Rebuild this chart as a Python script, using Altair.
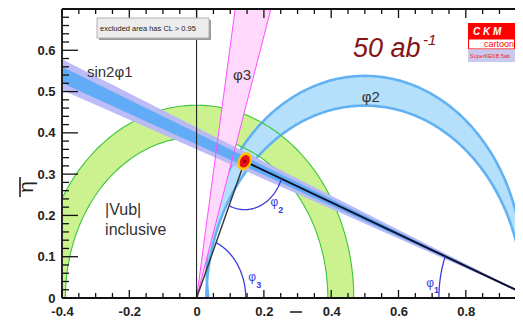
import altair as alt
import numpy as np
import pandas as pd

FONT = "Liberation Sans, Arial, Helvetica, sans-serif"
W, H = 453, 289
X_DOMAIN = [-0.4, -0.4 + 453 / 336.5]
Y_DOMAIN = [0.0, 0.7]

# ---- axis values ----
x_label_values = [-0.4, -0.2, 0.0, 0.2, 0.4, 0.6, 0.8]
y_label_values = [0.0, 0.1, 0.2, 0.3, 0.4, 0.5, 0.6]
x_major_ticks = [-0.4, -0.2, 0.0, 0.2, 0.4, 0.6, 0.8]
x_minor_ticks = [-0.35, -0.3, -0.25, -0.15, -0.1, -0.05, 0.05, 0.1, 0.15, 0.25, 0.3, 0.35,
                 0.45, 0.5, 0.55, 0.65, 0.7, 0.75, 0.85, 0.9]
y_major_ticks = [0.0, 0.1, 0.2, 0.3, 0.4, 0.5, 0.6]
y_minor_ticks = [0.02, 0.04, 0.06, 0.08, 0.12, 0.14, 0.16, 0.18, 0.22, 0.24, 0.26, 0.28,
                 0.32, 0.34, 0.36, 0.38, 0.42, 0.44, 0.46, 0.48, 0.52, 0.54, 0.56, 0.58,
                 0.62, 0.64, 0.66, 0.68]

# ---- constraint parameters ----
vub_radii = [0.390, 0.467]                       # |Vub| annulus around (0,0)
phi2_circles = [[0.5, 0.068, 0.470],              # phi2 band: outer circle (cx, cy, r)
                [0.5, -0.005, 0.471]]             #            inner circle
phi3_angles = [72.5, 80.7]                        # phi3 wedge from origin (deg)
sin2phi1_outer = [0.360, 0.413]                   # slopes of sin2phi1 band through (1,0)
sin2phi1_inner = [0.372, 0.400]
apex = [0.143, 0.331]                             # fitted apex (rho, eta)
angle_arc_radii = [0.146, 0.117, 0.280]           # phi3, phi2, phi1 arcs

# ---- text labels (rho, eta) ----
big_labels = ["sin2φ1", "φ3", "φ2"]
big_x = [-0.326, 0.108, 0.491]
big_y = [0.535, 0.528, 0.475]
vub_labels = ["|Vub|", "inclusive"]
vub_x = [-0.272, -0.272]
vub_y = [0.201, 0.153]
phi_labels = ["φ", "φ", "φ"]
phi_x = [0.694, 0.165, 0.2315]
phi_y = [0.027, 0.041, 0.223]
sub_labels = ["1", "3", "2"]
sub_x = [0.713, 0.185, 0.250]
sub_y = [0.012, 0.024, 0.206]

label_expr = ("datum.value == 0 ? '0' : (datum.value < 0 ? '-' : '') + "
              "format(abs(datum.value), '.1f')")
X = alt.X("x:Q", scale=alt.Scale(domain=X_DOMAIN, nice=False, zero=False),
          axis=alt.Axis(values=x_label_values, ticks=False, domain=False, grid=False,
                        title=None, labelFont=FONT, labelFontSize=13,
                        labelFontWeight="bold", labelColor="#222", labelPadding=7,
                        labelFlush=False, labelOverlap=False, labelExpr=label_expr))
Y = alt.Y("y:Q", scale=alt.Scale(domain=Y_DOMAIN, nice=False, zero=False),
          axis=alt.Axis(values=y_label_values, ticks=False, domain=False, grid=False,
                        title=None, labelFont=FONT, labelFontSize=13,
                        labelFontWeight="bold", labelColor="#222", labelPadding=7,
                        labelFlush=False, labelOverlap=False, labelExpr=label_expr))


def arc(cx, cy, r, a0, a1, n=120):
    t = np.radians(np.linspace(a0, a1, n))
    return list(cx + r * np.cos(t)), list(cy + r * np.sin(t))


def pdf(xs, ys):
    return pd.DataFrame({"x": xs, "y": ys, "i": np.arange(len(xs))})


def poly(df, fill=None, stroke=None, sw=1.0, op=1.0):
    kw = dict(clip=True, strokeJoin="round", interpolate="linear", opacity=op)
    if fill:
        kw["fill"] = fill
    if stroke:
        kw["stroke"] = stroke
        kw["strokeWidth"] = sw
    else:
        kw["strokeOpacity"] = 0
    return alt.Chart(df).mark_line(**kw).encode(x=X, y=Y, order=alt.Order("i:Q"))


layers = []

# |Vub| annulus
ox, oy = arc(0, 0, vub_radii[1], 0, 180)
ix, iy = arc(0, 0, vub_radii[0], 180, 0)
vub_df = pdf(ox + ix, oy + iy)
layers.append(poly(vub_df, fill="#ccf28f"))

# phi2 band (between two circles)
(ca, cya, ra), (cb, cyb, rb) = phi2_circles
a0 = np.degrees(np.arcsin(-cya / ra))
b0 = np.degrees(np.arcsin(-cyb / rb))
ax_, ay_ = arc(ca, cya, ra, a0, 180 - a0, 200)
bx_, by_ = arc(cb, cyb, rb, 180 - b0, b0, 200)
phi2_df = pdf(ax_ + bx_, ay_ + by_)
layers.append(poly(phi2_df, fill="#b5e0fb", stroke="#62b2f3", sw=2.6))

# green edges
layers.append(poly(pdf(ox, oy), stroke="#3cc43c", sw=1.1))
layers.append(poly(pdf(ix, iy), stroke="#3cc43c", sw=1.1))

# phi3 wedge
L = 1.0
p3x = [0.0, L * np.cos(np.radians(phi3_angles[0])), L * np.cos(np.radians(phi3_angles[1])), 0.0]
p3y = [0.0, L * np.sin(np.radians(phi3_angles[0])), L * np.sin(np.radians(phi3_angles[1])), 0.0]
phi3_df = pdf(p3x, p3y)
layers.append(poly(phi3_df, fill="#ffd9fb"))


# sin2phi1 band
def wedge1(slopes):
    Lw = 1.6
    return pdf([1.0, 1.0 - Lw, 1.0 - Lw, 1.0], [0.0, Lw * slopes[1], Lw * slopes[0], 0.0])


layers.append(poly(wedge1(sin2phi1_outer), fill="#b9b9f7", op=0.95))
layers.append(poly(wedge1(sin2phi1_inner), fill="#5eabf7", op=0.95))

# phi3 edges
layers.append(poly(phi3_df, stroke="#ff4dff", sw=1.0))

# rho = 0 vertical line
layers.append(alt.Chart(pd.DataFrame({"x": [0.0]})).mark_rule(color="#111", strokeWidth=1.0)
              .encode(x=X, y=alt.value(0), y2=alt.value(H)))

# triangle sides
ang3 = np.degrees(np.arctan2(apex[1], apex[0]))
ang1 = np.degrees(np.arctan2(apex[1], 1.0 - apex[0]))
layers.append(poly(pdf([0.0, apex[0]], [0.0, apex[1]]), stroke="#333333", sw=1.4))
layers.append(poly(pdf([apex[0], 1.0], [apex[1], 0.0]), stroke="#10102e", sw=2.0))

# angle arcs
r3, r2, r1 = angle_arc_radii
a3x, a3y = arc(0, 0, r3, 0, ang3, 60)
a2x, a2y = arc(apex[0], apex[1], r2, 180 + ang3, 360 - ang1, 60)
a1x, a1y = arc(1.0, 0.0, r1, 180, 180 - ang1, 60)
for xs, ys in [(a3x, a3y), (a2x, a2y), (a1x, a1y)]:
    layers.append(poly(pdf(xs, ys), stroke="#3b3bdb", sw=1.3))

# apex blob
ell = "M0,-1.2A0.85,1.2,0,1,1,0,1.2A0.85,1.2,0,1,1,0,-1.2Z"
apex_df = pd.DataFrame({"x": [apex[0]], "y": [apex[1]]})
layers.append(alt.Chart(apex_df).mark_point(shape=ell, filled=True, color="#ffc400",
                                            size=250, angle=25, opacity=1).encode(x=X, y=Y))
layers.append(alt.Chart(apex_df).mark_point(shape=ell, filled=True, color="#e81010",
                                            size=120, angle=25, opacity=1).encode(x=X, y=Y))
layers.append(alt.Chart(apex_df).mark_point(shape="circle", filled=True, color="#a00000",
                                            size=12, opacity=1).encode(x=X, y=Y))

# labels
big_df = pd.DataFrame({"x": big_x, "y": big_y, "t": big_labels})
layers.append(alt.Chart(big_df).mark_text(font=FONT, fontSize=15, color="#333", align="left",
                                          baseline="alphabetic").encode(x=X, y=Y, text="t:N"))
vub_df2 = pd.DataFrame({"x": vub_x, "y": vub_y, "t": vub_labels})
layers.append(alt.Chart(vub_df2).mark_text(font=FONT, fontSize=16, color="#333", align="left",
                                           baseline="alphabetic").encode(x=X, y=Y, text="t:N"))
phi_df = pd.DataFrame({"x": phi_x, "y": phi_y, "t": phi_labels})
layers.append(alt.Chart(phi_df).mark_text(font=FONT, fontSize=12, color="#3b3bdb", align="center",
                                          baseline="alphabetic").encode(x=X, y=Y, text="t:N"))
sub_df = pd.DataFrame({"x": sub_x, "y": sub_y, "t": sub_labels})
layers.append(alt.Chart(sub_df).mark_text(font=FONT, fontSize=9, fontWeight="bold", color="#3b3bdb",
                                          align="center", baseline="alphabetic")
              .encode(x=X, y=Y, text="t:N"))


# ---- ticks ----
def xticks(vals, y0, y1):
    return (alt.Chart(pd.DataFrame({"x": vals})).mark_rule(color="#111", strokeWidth=1.3)
            .encode(x=X, y=alt.value(y0), y2=alt.value(y1)))


def yticks(vals, x0, x1):
    return (alt.Chart(pd.DataFrame({"y": vals})).mark_rule(color="#111", strokeWidth=1.3)
            .encode(y=Y, x=alt.value(x0), x2=alt.value(x1)))


layers += [xticks(x_major_ticks, H, H - 8), xticks(x_minor_ticks, H, H - 5),
           xticks(x_major_ticks, 0, 9), xticks(x_minor_ticks, 0, 5),
           yticks(y_major_ticks, 0, 16), yticks(y_minor_ticks, 0, 7)]

one = pd.DataFrame({"a": [0]})
frame = alt.Chart(one).mark_rule(color="#111", strokeWidth=1.8)
layers += [frame.encode(x=alt.value(0), y=alt.value(0), y2=alt.value(H)),
           frame.encode(x=alt.value(0), x2=alt.value(W), y=alt.value(H)),
           frame.encode(x=alt.value(0), x2=alt.value(W), y=alt.value(0))]

# axis titles
layers.append(alt.Chart(one).mark_text(text="η", font=FONT, fontSize=21, angle=270, color="#222",
                                       align="center", baseline="alphabetic")
              .encode(x=alt.value(-29), y=alt.value(178)))
layers.append(alt.Chart(one).mark_rule(color="#222", strokeWidth=1.6)
              .encode(x=alt.value(-42), y=alt.value(168), y2=alt.value(188)))
layers.append(alt.Chart(one).mark_text(text="ρ", font=FONT, fontSize=22, color="#222",
                                       align="center", baseline="alphabetic")
              .encode(x=alt.value(234), y=alt.value(321)))
layers.append(alt.Chart(one).mark_rule(color="#222", strokeWidth=1.6)
              .encode(x=alt.value(228), x2=alt.value(240), y=alt.value(303)))

# legend box
layers.append(alt.Chart(one).mark_rect(color="#9a9a9a")
              .encode(x=alt.value(37), x2=alt.value(149), y=alt.value(11), y2=alt.value(31)))
layers.append(alt.Chart(one).mark_rect(fill="#ececec", stroke="#b0b0b0", strokeWidth=1)
              .encode(x=alt.value(35), x2=alt.value(147), y=alt.value(9), y2=alt.value(29)))
layers.append(alt.Chart(one).mark_text(text="excluded area has CL > 0.95", font=FONT, fontSize=7.5,
                                       color="#222", align="left", baseline="alphabetic")
              .encode(x=alt.value(38), y=alt.value(22)))

# luminosity tag
layers.append(alt.Chart(one).mark_text(text="50 ab", font=FONT, fontSize=27, fontStyle="italic",
                                       color="#861414", align="left", baseline="alphabetic")
              .encode(x=alt.value(291), y=alt.value(48)))
layers.append(alt.Chart(one).mark_text(text="-1", font=FONT, fontSize=15, fontStyle="italic",
                                       color="#861414", align="left", baseline="alphabetic")
              .encode(x=alt.value(361), y=alt.value(36)))

# CKMfitter logo
layers.append(alt.Chart(one).mark_rect(fill="#ff0000")
              .encode(x=alt.value(406), x2=alt.value(453), y=alt.value(14), y2=alt.value(30)))
layers.append(alt.Chart(one).mark_rect(fill="#ffffff", stroke="#ff0000", strokeWidth=1)
              .encode(x=alt.value(406.5), x2=alt.value(452.5), y=alt.value(30), y2=alt.value(40)))
layers.append(alt.Chart(one).mark_rect(fill="#c9c9f0")
              .encode(x=alt.value(406), x2=alt.value(453), y=alt.value(40.5), y2=alt.value(53)))
layers.append(alt.Chart(one).mark_text(text="C K M", font=FONT, fontSize=10, fontStyle="italic",
                                       fontWeight="bold", color="#ffffff", align="left",
                                       baseline="alphabetic")
              .encode(x=alt.value(411), y=alt.value(26)))
layers.append(alt.Chart(one).mark_text(text="cartoon", font=FONT, fontSize=9, color="#ff0000",
                                       align="left", baseline="alphabetic")
              .encode(x=alt.value(422), y=alt.value(38)))
layers.append(alt.Chart(one).mark_text(text="SuperKEKB 5ab", font=FONT, fontSize=5.5, color="#ff2020",
                                       align="left", baseline="alphabetic")
              .encode(x=alt.value(408), y=alt.value(49)))

chart = alt.layer(*layers).properties(
    width=W, height=H,
    autosize=alt.AutoSizeParams(type="none"),
    padding={"left": 54, "top": 1, "right": 0, "bottom": 19},
).configure_view(stroke=None)

chart.save("out.html", embed_options={"renderer": "svg", "actions": False})
